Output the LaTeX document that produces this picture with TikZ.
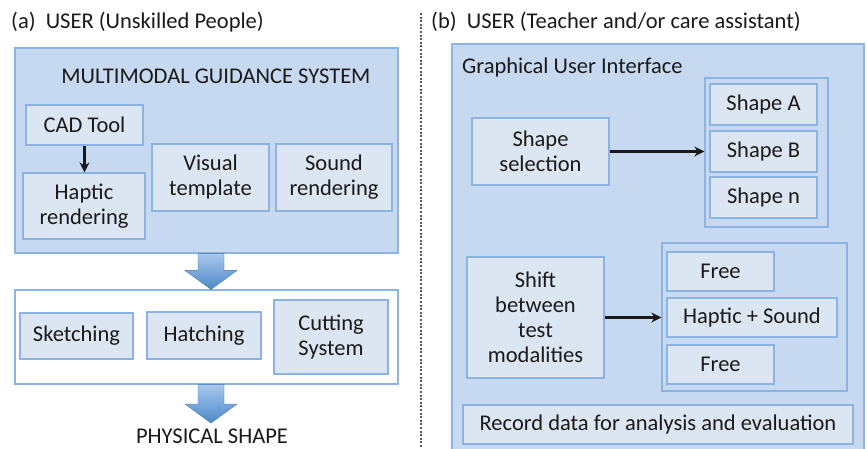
\documentclass[tikz,border=0pt]{standalone}
\usepackage{fontspec}
\setmainfont{Carlito}
\usetikzlibrary{arrows.meta,calc,shadows}

\definecolor{panelfill}{HTML}{C6D9F1}
\definecolor{panelline}{HTML}{8EB4E3}
\definecolor{boxfill}{HTML}{DCE6F2}
\definecolor{boxline}{HTML}{8DB3E2}
\definecolor{inkgray}{HTML}{1A1A1A}
\definecolor{arrowtop}{HTML}{A9C8EC}
\definecolor{arrowbot}{HTML}{4C88C9}

\tikzset{
  lbl/.style={font=\fontsize{22.5}{25}\selectfont, text=inkgray, inner sep=0pt},
  panel/.style={draw=panelline, fill=panelfill, line width=1.3pt, inner sep=0pt,
    drop shadow={opacity=0.18, shadow xshift=1.2pt, shadow yshift=-1.2pt}},
  whitepanel/.style={panel, fill=white},
  blk/.style={lbl, align=center, draw=boxline, fill=boxfill, line width=1.2pt,
    drop shadow={opacity=0.15, shadow xshift=1pt, shadow yshift=-1pt}},
  grp/.style={draw=boxline, fill=panelfill, line width=1.3pt, inner sep=0pt,
    drop shadow={opacity=0.15, shadow xshift=1pt, shadow yshift=-1pt}},
  arr/.style={-{Stealth[length=10pt,width=10pt]}, line width=2.2pt, draw=black!90},
  fatarrow/.style={draw=arrowbot!85!black, line width=0.4pt,
    top color=arrowtop, bottom color=arrowbot},
  sep/.style={draw=black!65, line width=1.1pt, dash pattern=on 2pt off 1.6pt}
}

% broad block arrow from #1 (top middle) to #2 (tip)
\newcommand\blockarrow[2]{%
  \path[fatarrow] let \p1=(#1), \p2=(#2) in
    (\x1-13pt,\y1) -- (\x1+13pt,\y1) -- (\x1+13pt,\y2+19pt) --
    (\x1+26pt,\y2+19pt) -- (\x1,\y2) -- (\x1-26pt,\y2+19pt) --
    (\x1-13pt,\y2+19pt) -- cycle;}

\begin{document}
\begin{tikzpicture}[x=1pt, y=-1pt]
\useasboundingbox (0,0) rectangle (867,449);
\fill[white] (0,0) rectangle (867,449);
\clip (0,0) rectangle (867,449);

% ---------------- left: guidance system ----------------
\node[lbl, anchor=west] (titleA) at (11,22) {(a)\ \ USER (Unskilled People)};

\node[panel, minimum width=383, minimum height=205] (mgs) at (206.5,150.5) {};
\node[lbl] (mgsT) at (216,76) {MULTIMODAL GUIDANCE SYSTEM};

\node[blk, minimum width=117, minimum height=40] (cad) at (84.5,125) {CAD Tool};
\node[blk, minimum width=122, minimum height=66] (hap) at (84,206) {Haptic\\rendering};
\node[blk, minimum width=117, minimum height=67] (vis) at (210.5,177.5) {Visual\\template};
\node[blk, minimum width=116, minimum height=67] (snd) at (334,177.5) {Sound\\rendering};
\draw[arr] (cad.south) -- (cad.south |- hap.north);

\node[whitepanel, minimum width=383, minimum height=94] (tools) at (206.5,337) {};
\node[blk, minimum width=113, minimum height=46] (sk) at (76.5,336) {Sketching};
\node[blk, minimum width=114, minimum height=47] (ha) at (204,335.5) {Hatching};
\node[blk, minimum width=114, minimum height=74] (cu) at (331,337) {Cutting\\System};

\node[lbl, anchor=base, text depth=0pt] (phys) at (212,443) {PHYSICAL SHAPE};
\coordinate (physIn) at (211,423);

\blockarrow{[xshift=4.5pt]mgs.south}{[xshift=4.5pt]tools.north}
\blockarrow{[xshift=4.5pt]tools.south}{physIn}

% ---------------- separator ----------------
\draw[sep] (421,13) -- (421,449);

% ---------------- right: teacher interface ----------------
\node[lbl, anchor=west] (titleB) at (431,22) {(b)\ \ USER (Teacher and/or care assistant)};

\node[panel, minimum width=412, minimum height=420] (gui) at (658,254) {};
\node[lbl, anchor=west] (guiT) at (462,68) {Graphical User Interface};

\node[blk, minimum width=137, minimum height=67] (sel) at (540.5,151.5) {Shape\\selection};
\node[grp, minimum width=123, minimum height=149] (shp) at (766.5,152.5) {};
\node[blk, minimum width=107, minimum height=41] (sA) at (763.5,104.5) {Shape A};
\node[blk, minimum width=107, minimum height=41] (sB) at (763.5,151.5) {Shape B};
\node[blk, minimum width=107, minimum height=41] (sN) at (763.5,197.5) {Shape n};
\draw[arr] (sel.east) -- (sel.east -| shp.west);

\node[blk, minimum width=137, minimum height=121] (shift) at (535.5,317.5) {Shift\\between\\test\\modalities};
\node[grp, minimum width=185, minimum height=148] (mod) at (754.5,317) {};
\node[blk, minimum width=107, minimum height=39] (fr1) at (720.5,271.5) {Free};
\node[blk, minimum width=170, minimum height=39] (hs) at (752,317.5) {Haptic + Sound};
\node[blk, minimum width=107, minimum height=39] (fr2) at (720.5,364.5) {Free};
\draw[arr] (shift.east) -- (shift.east -| mod.west);

\node[blk, minimum width=390, minimum height=39] (rec) at (658,424.5) {Record data for analysis and evaluation};
\end{tikzpicture}
\end{document}
